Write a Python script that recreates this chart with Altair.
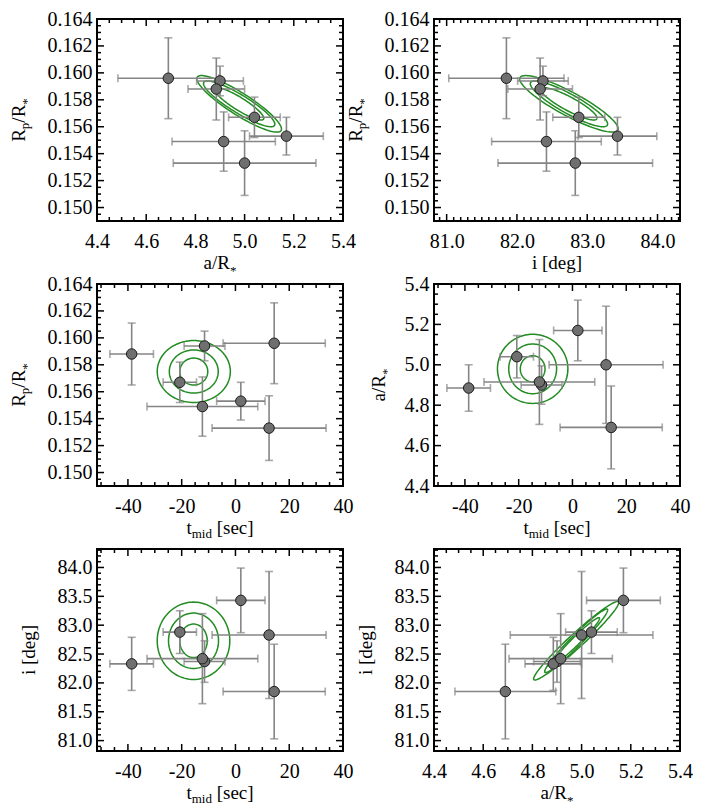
import altair as alt
import numpy as np
import pandas as pd

# ---------------- per-transit fitted values (7 transits) ----------------
tmid     = [14.4, -11.5, -38.6, -20.7, 2.0, -12.3, 12.5]
tmid_err = [19.0, 7.6, 8.1, 6.2, 9.0, 20.6, 21.2]
a_rs     = [4.69, 4.90, 4.885, 5.04, 5.17, 4.915, 5.00]
a_err    = [0.205, 0.095, 0.115, 0.105, 0.150, 0.210, 0.290]
rp_rs    = [0.1596, 0.1594, 0.1588, 0.1567, 0.1553, 0.1549, 0.1533]
rp_err   = [0.0030, 0.0011, 0.0023, 0.0015, 0.0014, 0.0022, 0.0024]
inc      = [81.85, 82.37, 82.33, 82.88, 83.43, 82.42, 82.83]
inc_err  = [0.82, 0.36, 0.46, 0.37, 0.56, 0.78, 1.10]

# ---------------- joint-posterior contours, one entry per panel ----------------
panel_x      = ["a", "inc", "tmid", "tmid", "tmid", "a"]
panel_y      = ["rp", "rp", "rp", "a", "inc", "inc"]
contour_cx   = [4.978, 82.74, -15.5, -14.8, -15.6, 4.978]
contour_cy   = [0.1577, 0.1577, 0.1575, 4.98, 82.73, 82.73]
contour_rho  = [-0.89, -0.88, 0.0, 0.0, 0.0, 0.97]
contour_hx   = [[0.100, 0.145, 0.172], [0.40, 0.55, 0.70], [5.2, 9.1, 13.6],
                [4.6, 8.9, 13.1], [5.1, 9.3, 13.5], [0.095, 0.128, 0.173]]
contour_hy   = [[0.0012, 0.0017, 0.0021], [0.0012, 0.0017, 0.0021], [0.0010, 0.0016, 0.0023],
                [0.065, 0.123, 0.171], [0.29, 0.48, 0.67], [0.40, 0.55, 0.68]]

# ---------------- axis ranges and tick labels ----------------
domain     = {"tmid": [-51.5, 40.0], "a": [4.4, 5.4], "rp": [0.149, 0.164], "inc": [80.82, 84.32]}
major_x    = {"tmid": [-40, -20, 0, 20, 40], "a": [4.4, 4.6, 4.8, 5.0, 5.2, 5.4],
              "inc": [81.0, 82.0, 83.0, 84.0]}
major_y    = {"rp": [0.150, 0.152, 0.154, 0.156, 0.158, 0.160, 0.162, 0.164],
              "a": [4.4, 4.6, 4.8, 5.0, 5.2, 5.4],
              "inc": [81.0, 81.5, 82.0, 82.5, 83.0, 83.5, 84.0]}
minor_step = {"tmid": 5.0, "a": 0.05, "rp": 0.0005, "inc": 0.1}
label_fmt  = {"a": ".1f", "rp": ".3f", "inc": ".1f"}

FONT = "Liberation Serif"
W, H = 246, 202
GREEN = "#228b22"
ERRC = "#858585"
PTC = "#6f6f6f"
LABEL_SIZE = 20
XTITLE_DY = 48

# title pieces: (text, font size, baseline shift)
titles = {
    "a":    [("a/R", 19, 0), ("*", 13, 6)],
    "rp":   [("R", 19, 0), ("p", 13, 4), ("/R", 19, 0), ("*", 13, 6)],
    "inc":  [("i [deg]", 19, 0)],
    "tmid": [("t", 19, 0), ("mid", 13, 4), (" [sec]", 19, 0)],
}
ytitle_base = {"rp": -72, "a": -49, "inc": -62}

CHAR_EM = {"a": 0.444, "R": 0.667, "/": 0.278, "*": 0.5, "p": 0.5, "i": 0.278, " ": 0.25,
           "[": 0.333, "]": 0.333, "d": 0.5, "e": 0.444, "g": 0.5, "t": 0.278, "m": 0.778,
           "s": 0.389, "c": 0.444}


def seg_w(s, size):
    return sum(CHAR_EM.get(c, 0.5) for c in s) * size


df = pd.DataFrame({"tmid": tmid, "tmid_err": tmid_err, "a": a_rs, "a_err": a_err,
                   "rp": rp_rs, "rp_err": rp_err, "inc": inc, "inc_err": inc_err})
for k in ["tmid", "a", "rp", "inc"]:
    df[k + "_lo"] = df[k] - df[k + "_err"]
    df[k + "_hi"] = df[k] + df[k + "_err"]

ONE = pd.DataFrame({"d": [0]})


def minor_vals(key, majors):
    lo, hi = domain[key]
    st = minor_step[key]
    vals = np.arange(np.ceil(lo / st - 1e-9) * st, hi + st * 1e-6, st)
    out = [float(round(v, 6)) for v in vals if min(abs(v - m) for m in majors) > st * 0.1]
    return out


def scale(key):
    return alt.Scale(domain=domain[key], nice=False, zero=False)


def axis_obj(key, majors, orient):
    kw = dict(values=majors, title=None, grid=False, ticks=False, tickSize=0, domain=False,
              labelFont=FONT, labelFontSize=LABEL_SIZE, labelColor="black",
              labelOverlap=False, labelFlush=False)
    if key == "tmid":
        kw["labelExpr"] = "'' + datum.value"
    else:
        kw["format"] = label_fmt[key]
    kw["labelPadding"] = 10 if orient == "x" else 5
    return alt.Axis(**kw)


def panel(i):
    xk, yk = panel_x[i], panel_y[i]
    xs, ys = scale(xk), scale(yk)
    xmaj, ymaj = major_x[xk], major_y[yk]
    XA = axis_obj(xk, xmaj, "x")
    YA = axis_obj(yk, ymaj, "y")

    def X(f):
        return alt.X(f, scale=xs, axis=XA)

    def Y(f):
        return alt.Y(f, scale=ys, axis=YA)

    # contour curves
    rows = []
    t = np.linspace(0, 2 * np.pi, 121)
    rho = contour_rho[i]
    for lvl, (hx, hy) in enumerate(zip(contour_hx[i], contour_hy[i])):
        xx = contour_cx[i] + hx * np.cos(t)
        yy = contour_cy[i] + hy * (rho * np.cos(t) + np.sqrt(1 - rho ** 2) * np.sin(t))
        for k, (u, v) in enumerate(zip(xx, yy)):
            rows.append({"x": u, "y": v, "lvl": lvl, "k": k})
    cdf = pd.DataFrame(rows)

    layers = []
    layers.append(alt.Chart(cdf).mark_line(color=GREEN, strokeWidth=1.5).encode(
        x=X("x:Q"), y=Y("y:Q"), detail="lvl:N", order=alt.Order("k:Q")))

    base = alt.Chart(df)
    # error bars
    layers.append(base.mark_rule(color=ERRC, strokeWidth=1.6).encode(
        x=X(f"{xk}_lo:Q"), x2=f"{xk}_hi:Q", y=Y(f"{yk}:Q")))
    layers.append(base.mark_rule(color=ERRC, strokeWidth=1.6).encode(
        x=X(f"{xk}:Q"), y=Y(f"{yk}_lo:Q"), y2=f"{yk}_hi:Q"))
    for end in ["_lo", "_hi"]:
        layers.append(base.mark_tick(color=ERRC, orient="vertical", size=8, thickness=1.6).encode(
            x=X(f"{xk}{end}:Q"), y=Y(f"{yk}:Q")))
        layers.append(base.mark_tick(color=ERRC, orient="horizontal", size=8, thickness=1.6).encode(
            x=X(f"{xk}:Q"), y=Y(f"{yk}{end}:Q")))
    # points
    layers.append(base.mark_circle(color=PTC, opacity=1, size=110, stroke="#1c1c1c",
                                   strokeWidth=1).encode(x=X(f"{xk}:Q"), y=Y(f"{yk}:Q")))

    # inward frame ticks on all four sides
    for vals, ln in [(xmaj, 7), (minor_vals(xk, xmaj), 4)]:
        tdf = pd.DataFrame({"v": vals})
        layers.append(alt.Chart(tdf).mark_rule(color="black", strokeWidth=1.5).encode(
            x=X("v:Q"), y=alt.value(H), y2=alt.value(H - ln)))
        layers.append(alt.Chart(tdf).mark_rule(color="black", strokeWidth=1.5).encode(
            x=X("v:Q"), y=alt.value(0), y2=alt.value(ln)))
    for vals, ln in [(ymaj, 7), (minor_vals(yk, ymaj), 4)]:
        tdf = pd.DataFrame({"v": vals})
        layers.append(alt.Chart(tdf).mark_rule(color="black", strokeWidth=1.5).encode(
            y=Y("v:Q"), x=alt.value(0), x2=alt.value(ln)))
        layers.append(alt.Chart(tdf).mark_rule(color="black", strokeWidth=1.5).encode(
            y=Y("v:Q"), x=alt.value(W), x2=alt.value(W - ln)))

    # x title (horizontal, centred under the panel)
    segs = titles[xk]
    total = sum(seg_w(s, sz) for s, sz, sh in segs)
    pos = W / 2 - total / 2
    for s, sz, sh in segs:
        lead = seg_w(s[: len(s) - len(s.lstrip())], sz)
        layers.append(alt.Chart(ONE).mark_text(
            text=s.strip(), font=FONT, fontSize=sz, align="left", baseline="alphabetic",
            color="black").encode(x=alt.value(pos + lead), y=alt.value(H + XTITLE_DY + sh)))
        pos += seg_w(s, sz)

    # y title (rotated, reading upwards)
    segs = titles[yk]
    total = sum(seg_w(s, sz) for s, sz, sh in segs)
    pos = H / 2 + total / 2
    bx = ytitle_base[yk]
    for s, sz, sh in segs:
        layers.append(alt.Chart(ONE).mark_text(
            text=s, font=FONT, fontSize=sz, align="left", baseline="alphabetic", angle=270,
            color="black").encode(x=alt.value(bx + sh), y=alt.value(pos)))
        pos -= seg_w(s, sz)

    return alt.layer(*layers).properties(width=W, height=H)


chart = alt.concat(
    *[panel(i) for i in range(6)], columns=2,
    spacing={"row": 63, "column": 91}, bounds="flush"
).properties(
    padding={"left": 0, "top": 0, "right": 4, "bottom": 0}
).configure(
    font=FONT
).configure_axis(
    labelFont=FONT
).configure_view(
    stroke="black", strokeWidth=2
)

chart.save("out.html", embed_options={"renderer": "svg", "actions": False})
